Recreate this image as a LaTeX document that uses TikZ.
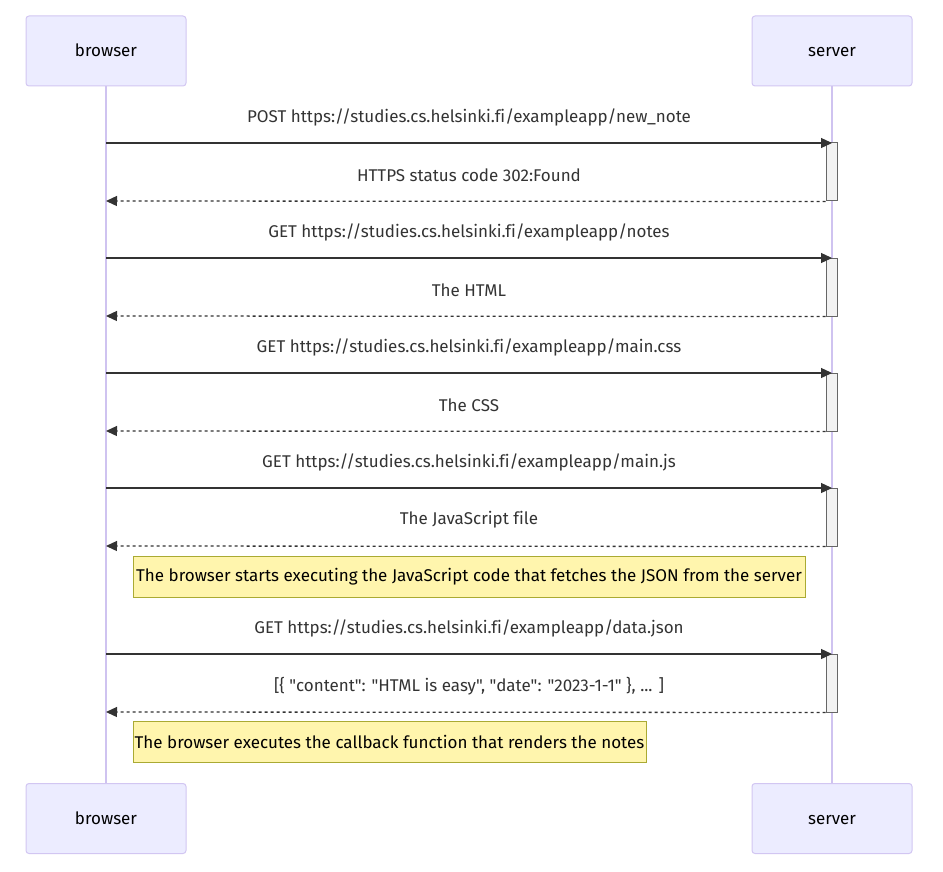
\documentclass[tikz,border=0pt]{standalone}
\usepackage{fontspec}
\setmainfont{Fira Sans}[Ligatures={TeXOff,CommonOff}]
\usetikzlibrary{arrows.meta,positioning}
\definecolor{actorfill}{HTML}{ECECFF}
\definecolor{actorline}{HTML}{D2C6F2}
\definecolor{lifeline}{HTML}{CFC3F0}
\definecolor{msgline}{HTML}{333333}
\definecolor{msgtext}{HTML}{333333}
\definecolor{notefill}{HTML}{FFF5AD}
\definecolor{noteline}{HTML}{AAAA33}

\begin{document}
\begin{tikzpicture}[x=1pt,y=-1pt,
  every node/.style={font=\fontsize{17}{20}\selectfont},
  actor/.style={draw=actorline,line width=1pt,rounded corners=3pt,fill=actorfill,
                minimum width=160pt,minimum height=70pt,align=center,
                text height=14pt,text depth=2pt},
  life/.style={draw=lifeline,line width=1.5pt},
  act/.style={draw=black!60,line width=1pt,fill=black!5,minimum width=11pt,inner sep=0pt},
  msg/.style={draw=msgline,line width=1.3pt,-{Triangle[length=11pt,width=10pt]}},
  reply/.style={msg,dash pattern=on 3pt off 3pt},
  label/.style={text=msgtext},
  note/.style={draw=noteline,line width=1pt,fill=notefill,minimum height=41pt,inner sep=0pt}
]
  \useasboundingbox (0,0) rectangle (943,872);

  % participants
  \node[actor] (browserTop) at (106,51) {browser};
  \node[actor] (serverTop) at (832,51) {server};
  \node[actor] (browserBot) at (106,818.5) {browser};
  \node[actor] (serverBot) at (832,818.5) {server};
  \draw[life] (browserTop.south) -- (browserBot.north);
  \draw[life] (serverTop.south) -- (serverBot.north);

  % activations on the server
  \node[act,minimum height=58pt] (act1) at (831.5,172) {};
  \node[act,minimum height=58pt] (act2) at (831.5,287) {};
  \node[act,minimum height=58pt] (act3) at (831.5,402) {};
  \node[act,minimum height=58pt] (act4) at (831.5,517) {};
  \node[act,minimum height=58pt] (act5) at (831.5,683) {};

  % requests and responses
  \coordinate (req1) at (106,143); \coordinate (srv1) at (832,143);
  \coordinate (res1) at (106,201);
  \draw[msg] (req1) -- (srv1);
  \node[label] (lblReq1) at (469,117) {POST https://studies.cs.helsinki.fi/exampleapp/new\_note};
  \draw[reply] (act1.south west) -- (res1);
  \node[label] (lblRes1) at (469,175) {HTTPS status code 302:Found};

  \coordinate (req2) at (106,258); \coordinate (srv2) at (832,258);
  \coordinate (res2) at (106,316);
  \draw[msg] (req2) -- (srv2);
  \node[label] (lblReq2) at (469,232) {GET https://studies.cs.helsinki.fi/exampleapp/notes};
  \draw[reply] (act2.south west) -- (res2);
  \node[label] (lblRes2) at (469,290) {The HTML};

  \coordinate (req3) at (106,373); \coordinate (srv3) at (832,373);
  \coordinate (res3) at (106,431);
  \draw[msg] (req3) -- (srv3);
  \node[label] (lblReq3) at (469,347) {GET https://studies.cs.helsinki.fi/exampleapp/main.css};
  \draw[reply] (act3.south west) -- (res3);
  \node[label] (lblRes3) at (469,405) {The CSS};

  \coordinate (req4) at (106,488); \coordinate (srv4) at (832,488);
  \coordinate (res4) at (106,546);
  \draw[msg] (req4) -- (srv4);
  \node[label] (lblReq4) at (469,462) {GET https://studies.cs.helsinki.fi/exampleapp/main.js};
  \draw[reply] (act4.south west) -- (res4);
  \node[label] (lblRes4) at (469,520) {The JavaScript file};

  \node[note,minimum width=672pt] (note1) at (469,576.5)
    {The browser starts executing the JavaScript code that fetches the JSON from the server};

  \coordinate (req5) at (106,654); \coordinate (srv5) at (832,654);
  \coordinate (res5) at (106,712);
  \draw[msg] (req5) -- (srv5);
  \node[label] (lblReq5) at (469,628) {GET https://studies.cs.helsinki.fi/exampleapp/data.json};
  \draw[reply] (act5.south west) -- (res5);
  \node[label] (lblRes5) at (469,686) {[\{ "content": "HTML is easy", "date": "2023-1-1" \}, ... ]};

  \node[note,minimum width=513pt] (note2) at (389.5,742)
    {The browser executes the callback function that renders the notes};
\end{tikzpicture}
\end{document}
